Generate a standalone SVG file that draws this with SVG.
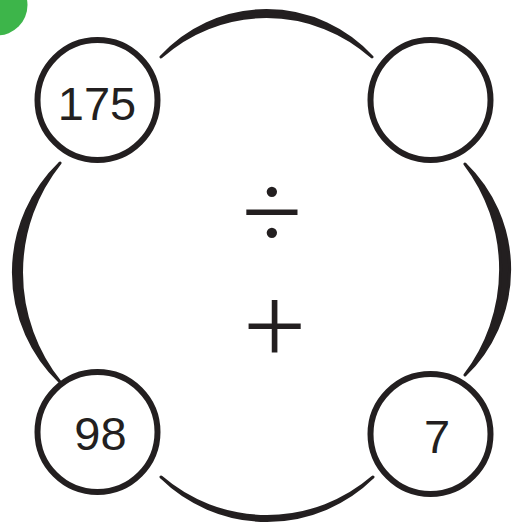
<svg xmlns="http://www.w3.org/2000/svg" width="522" height="524" viewBox="0 0 522 524">
<style>
.arc{fill:#231f20;stroke:#231f20;stroke-width:3;stroke-linejoin:round}
.node circle{fill:#fff;stroke:#231f20;stroke-width:6}
.num{font-family:"Liberation Sans",Arial,sans-serif;font-size:47px;fill:#231f20;text-anchor:middle}
.op{font-family:"Liberation Serif","Times New Roman",serif;fill:#231f20;text-anchor:middle}
</style>
<rect width="522" height="524" fill="#fff"/>
<circle cx="-3" cy="5" r="30.5" fill="#3db54a"/>
<g id="connectors">
<path class="arc" d="M161,57 A143,143 0 0 1 372,57 A158,158 0 0 0 161,57 Z"/>
<path class="arc" d="M161,477 A151,151 0 0 0 373,477 A162,162 0 0 1 161,477 Z"/>
<path class="arc" d="M60,163 A152,152 0 0 0 60,382 A175,175 0 0 1 60,163 Z"/>
<path class="arc" d="M465,164 A147,147 0 0 1 465,375 A174,174 0 0 0 465,164 Z"/>
</g>
<g id="node-175" class="node"><circle cx="97.5" cy="100" r="60"/><text class="num" x="97" y="120">175</text></g>
<g id="node-empty" class="node"><circle cx="430.5" cy="100" r="60"/></g>
<g id="node-98" class="node"><circle cx="97.5" cy="432" r="60"/><text class="num" x="100.5" y="450">98</text></g>
<g id="node-7" class="node"><circle cx="430.5" cy="434" r="60"/><text class="num" x="437" y="453">7</text></g>
<g id="operators">
<text class="op" x="272" y="249" font-size="110">÷</text>
<text class="op" x="274.5" y="364" font-size="112">+</text>
</g>
</svg>
